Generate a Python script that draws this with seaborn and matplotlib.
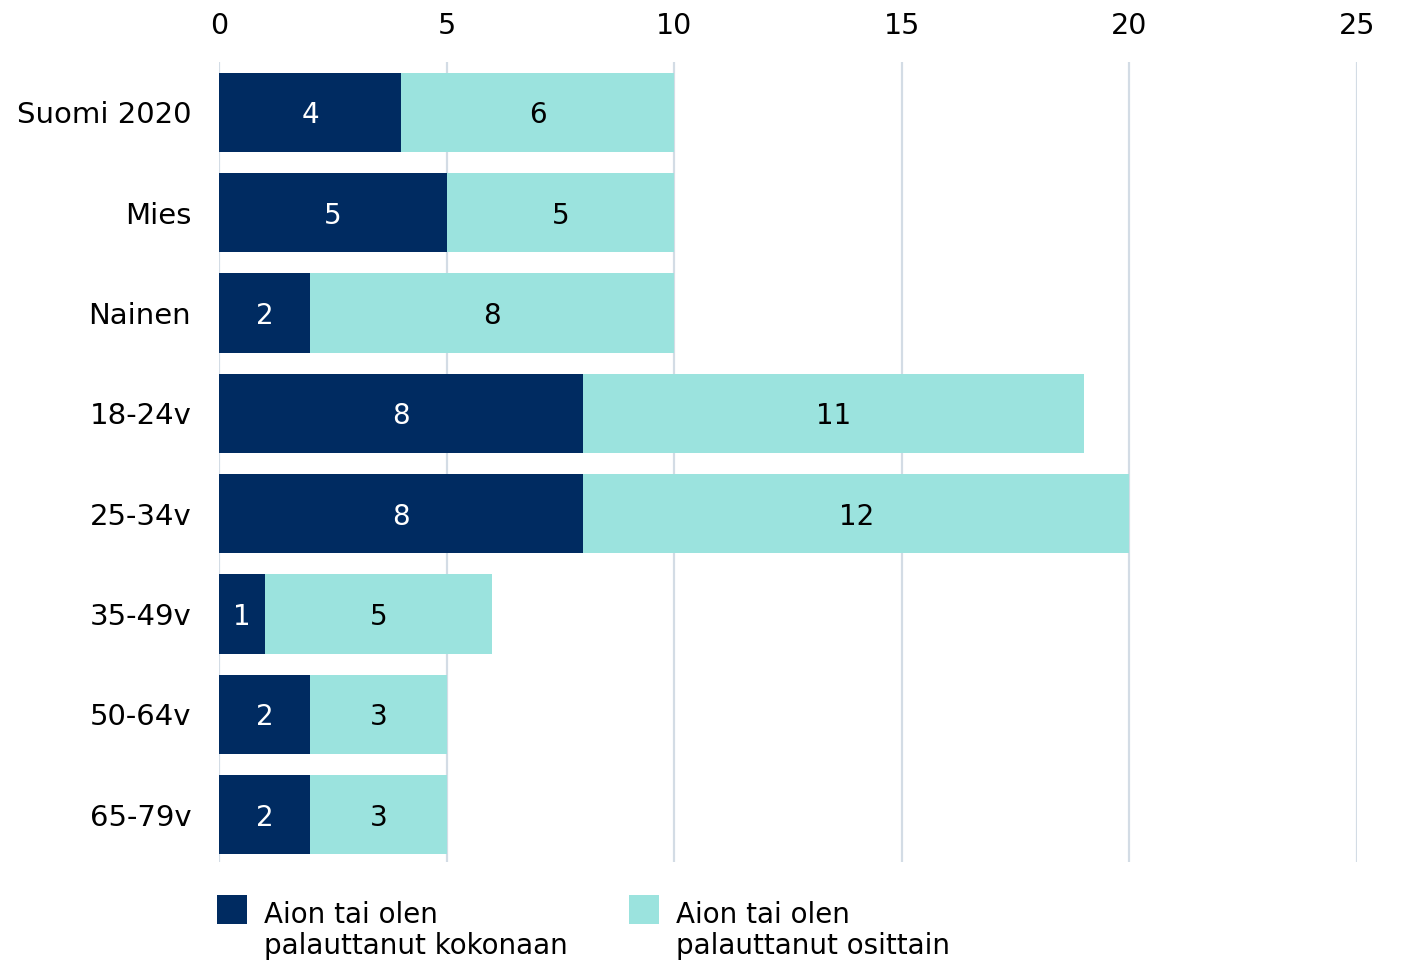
import matplotlib
matplotlib.use("Agg")
import matplotlib.pyplot as plt
import matplotlib.patches as mpatches
import seaborn as sns
import pandas as pd

categories = ["Suomi 2020", "Mies", "Nainen", "18-24v", "25-34v", "35-49v", "50-64v", "65-79v"]
kokonaan = [4, 5, 2, 8, 8, 1, 2, 2]
osittain = [6, 5, 8, 11, 12, 5, 3, 3]
series_names = ["Aion tai olen\npalauttanut kokonaan", "Aion tai olen\npalauttanut osittain"]
x_ticks = [0, 5, 10, 15, 20, 25]

dark = "#002b61"
light = "#9be3de"
grid_col = "#d3dce5"

sns.set_theme(style="white")
plt.rcParams["font.family"] = ["DejaVu Sans"]

W, H = 1402, 961
df = pd.DataFrame({"cat": categories, "kok": kokonaan, "osi": osittain})
df["total"] = df["kok"] + df["osi"]

fig = plt.figure(figsize=(W / 100, H / 100), dpi=100)
ax = fig.add_axes([219 / W, 1 - 862 / H, (1357 - 219) / W, (862 - 62) / H])

sns.barplot(data=df, x="total", y="cat", color=light, saturation=1, width=0.79,
            linewidth=0, ax=ax, zorder=2)
sns.barplot(data=df, x="kok", y="cat", color=dark, saturation=1, width=0.79,
            linewidth=0, ax=ax, zorder=3)

for i, row in df.iterrows():
    ax.text(row["kok"] / 2, i, str(row["kok"]), ha="center", va="center_baseline",
            color="white", fontsize=20, zorder=4)
    ax.text(row["kok"] + row["osi"] / 2, i, str(row["osi"]), ha="center", va="center_baseline",
            color="black", fontsize=20, zorder=4)

ax.set_xlim(0, 25)
ax.set_ylim(7.47, -0.5)
ax.set_xticks(x_ticks)
ax.xaxis.tick_top()
ax.tick_params(axis="x", length=0, pad=16, labelsize=20.5, colors="black")
ax.tick_params(axis="y", length=0, pad=20, labelsize=21, colors="black")
ax.set_xlabel("")
ax.set_ylabel("")
for s in ax.spines.values():
    s.set_visible(False)
ax.grid(False)
for t in x_ticks:
    ax.axvline(t, color=grid_col, lw=1.6, zorder=1)

# legend: colour square beside a two-line label
legend_items = [(217, dark, series_names[0]), (629, light, series_names[1])]
for x0, col, name in legend_items:
    fig.add_artist(mpatches.Rectangle((x0 / W, 1 - 924 / H), 30 / W, 29 / H,
                                      transform=fig.transFigure, color=col, lw=0))
    fig.text((x0 + 47) / W, 1 - 901 / H, name, ha="left", va="top",
             fontsize=20, color="black", linespacing=1.15)

fig.savefig("out.png", dpi=100)
